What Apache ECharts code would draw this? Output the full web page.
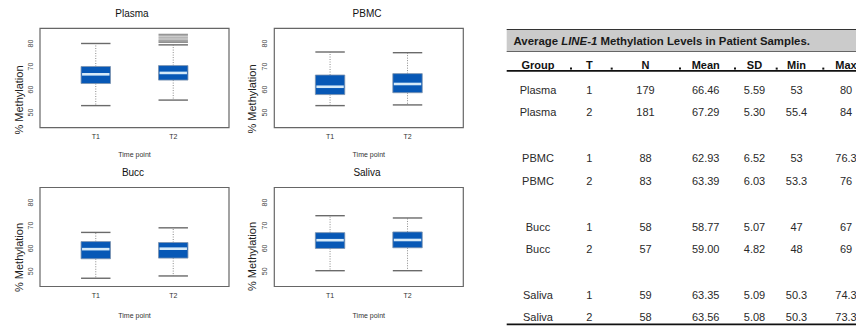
<!DOCTYPE html>
<html>
<head>
<meta charset="utf-8">
<script src="https://cdn.jsdelivr.net/npm/echarts@6/dist/echarts.min.js"></script>
<style>
html,body{margin:0;padding:0;background:#fff;}
#chart{width:856px;height:327px;}
</style>
</head>
<body>
<div id="chart"></div>
<script>
// ---------- DATA ----------
const categories = ['T1', 'T2'];
const panelTitles = ['Plasma', 'PBMC', 'Bucc', 'Saliva'];
// [min, q1, median, q3, max]
const plasmaBox = [[53, 62.6, 66.6, 70.0, 80.0], [55.4, 64.1, 67.2, 70.4, 79.4]];
const plasmaOutliers = [[2, 80.5], [2, 81.0], [2, 81.5], [2, 82.4], [2, 83.3], [2, 84.0]];
const pbmcBox = [[53, 57.8, 61.2, 66.3, 76.3], [53.3, 58.6, 62.4, 66.9, 76.0]];
const buccBox = [[47, 55.5, 59.7, 63.0, 67.0], [48, 55.8, 59.9, 62.6, 69.0]];
const salivaBox = [[50.3, 60.0, 63.6, 66.9, 74.3], [50.3, 60.3, 63.7, 67.2, 73.3]];
const yTickValues = [50, 60, 70, 80];
const xTickValues = [1, 2];
const yAxisTitle = '% Methylation';
const xAxisTitle = 'Time point';

const tableTitleA = 'Average ';
const tableTitleB = 'LINE-1';
const tableTitleC = ' Methylation Levels in Patient Samples.';
const tableHeaders = ['Group', 'T', 'N', 'Mean', 'SD', 'Min', 'Max'];
const tableGroup = ['Plasma', 'Plasma', 'PBMC', 'PBMC', 'Bucc', 'Bucc', 'Saliva', 'Saliva'];
const tableT = ['1', '2', '1', '2', '1', '2', '1', '2'];
const tableN = ['179', '181', '88', '83', '58', '57', '59', '58'];
const tableMean = ['66.46', '67.29', '62.93', '63.39', '58.77', '59.00', '63.35', '63.56'];
const tableSD = ['5.59', '5.30', '6.52', '6.03', '5.07', '4.82', '5.09', '5.08'];
const tableMin = ['53', '55.4', '53', '53.3', '47', '48', '50.3', '50.3'];
const tableMax = ['80', '84', '76.3', '76', '67', '69', '74.3', '73.3'];

// ---------- LAYOUT ----------
const FONT = 'Liberation Sans, Arial, Helvetica, sans-serif';
const panelBoxes = [plasmaBox, pbmcBox, buccBox, salivaBox];
const gridPos = [
  {left: 40, top: 28.3, width: 189, height: 99.4},
  {left: 274.3, top: 28.3, width: 189, height: 99.4},
  {left: 40, top: 187.5, width: 189, height: 99},
  {left: 274.3, top: 187.5, width: 189, height: 99}
];
const HALF_W = 0.19;

function renderBox(params, api) {
  const x = api.value(0);
  const mn = api.value(1), q1 = api.value(2), md = api.value(3), q3 = api.value(4), mx = api.value(5);
  const hw = api.size([HALF_W, 0])[0];
  const pMin = api.coord([x, mn]), pQ1 = api.coord([x, q1]), pMd = api.coord([x, md]),
        pQ3 = api.coord([x, q3]), pMax = api.coord([x, mx]);
  const cx = pMin[0];
  const dotted = {stroke: '#8a8a8a', lineWidth: 1, lineDash: [1, 1.5]};
  const cap = {stroke: '#6a6a6a', lineWidth: 1.4};
  return {
    type: 'group',
    children: [
      {type: 'line', shape: {x1: cx, y1: pQ3[1], x2: cx, y2: pMax[1]}, style: dotted},
      {type: 'line', shape: {x1: cx, y1: pQ1[1], x2: cx, y2: pMin[1]}, style: dotted},
      {type: 'line', shape: {x1: cx - hw, y1: pMax[1], x2: cx + hw, y2: pMax[1]}, style: cap},
      {type: 'line', shape: {x1: cx - hw, y1: pMin[1], x2: cx + hw, y2: pMin[1]}, style: cap},
      {type: 'rect', shape: {x: cx - hw, y: pQ3[1], width: 2 * hw, height: pQ1[1] - pQ3[1]},
        style: {fill: '#0758b6', stroke: '#7d93ad', lineWidth: 0.8}},
      {type: 'line', shape: {x1: cx - hw + 1, y1: pMd[1], x2: cx + hw - 1, y2: pMd[1]},
        style: {stroke: '#d6eaf8', lineWidth: 2.6}}
    ]
  };
}

function renderOutlier(params, api) {
  const x = api.value(0), v = api.value(1);
  const hw = api.size([HALF_W, 0])[0];
  const p = api.coord([x, v]);
  return {type: 'line', shape: {x1: p[0] - hw, y1: p[1], x2: p[0] + hw, y2: p[1]},
    style: {stroke: '#7a7a7a', lineWidth: 1}};
}

const grids = [], xAxes = [], yAxes = [], series = [];
gridPos.forEach((g, i) => {
  grids.push(Object.assign({show: true, borderColor: '#666', borderWidth: 1.2, backgroundColor: '#fff'}, g));
  xAxes.push({
    type: 'value', gridIndex: i, min: 0.28, max: 2.72,
    axisLine: {show: false}, axisTick: {show: false}, splitLine: {show: false},
    axisLabel: {customValues: xTickValues, formatter: v => categories[Math.round(v) - 1],
      fontSize: 7, color: '#333', fontFamily: FONT, margin: 5},
    name: xAxisTitle, nameLocation: 'middle', nameGap: i < 2 ? 23 : 25,
    nameTextStyle: {fontSize: 7, color: '#333', fontFamily: FONT}
  });
  yAxes.push({
    type: 'value', gridIndex: i, min: 43.4, max: 86.6,
    axisLine: {show: false}, axisTick: {show: false}, splitLine: {show: false},
    axisLabel: {customValues: yTickValues, rotate: 90, fontSize: 7, color: '#444',
      fontFamily: FONT, margin: 6}
  });
  series.push({
    type: 'custom', xAxisIndex: i, yAxisIndex: i, renderItem: renderBox,
    encode: {x: 0, y: [1, 2, 3, 4, 5]},
    data: panelBoxes[i].map((b, k) => [xTickValues[k]].concat(b)), silent: true
  });
});
series.push({
  type: 'custom', xAxisIndex: 0, yAxisIndex: 0, renderItem: renderOutlier,
  encode: {x: 0, y: 1}, data: plasmaOutliers, silent: true
});

// ---------- GRAPHIC (titles, axis titles, table) ----------
const graphic = [];
const titlePos = [[132, 13.5], [367, 13.5], [133, 172], [367, 172]];
panelTitles.forEach((t, i) => {
  graphic.push({type: 'text', x: titlePos[i][0], y: titlePos[i][1],
    style: {text: t, fontSize: 10, fill: '#111', fontFamily: FONT, align: 'center', verticalAlign: 'middle'}});
});
const ylabPos = [[18.5, 100], [252, 99], [18.5, 257.5], [252, 256.5]];
ylabPos.forEach(p => {
  graphic.push({type: 'text', x: p[0], y: p[1], rotation: Math.PI / 2,
    style: {text: yAxisTitle, fontSize: 11, fill: '#222', fontFamily: FONT, align: 'center', verticalAlign: 'middle'}});
});

// table
const TL = 506.7, TR = 856;
graphic.push({type: 'rect', shape: {x: TL, y: 29.3, width: TR - TL, height: 22.4},
  style: {fill: '#cbcbcb'}});
graphic.push({type: 'line', shape: {x1: TL, y1: 29.5, x2: TR, y2: 29.5}, style: {stroke: '#333', lineWidth: 1}});
graphic.push({type: 'line', shape: {x1: TL, y1: 51.5, x2: TR, y2: 51.5}, style: {stroke: '#666', lineWidth: 1}});
graphic.push({type: 'text', x: 513.5, y: 41,
  style: {
    text: '{b|' + tableTitleA + '}{i|' + tableTitleB + '}{b|' + tableTitleC + '}',
    verticalAlign: 'middle', align: 'left',
    rich: {
      b: {fontSize: 11.4, fontWeight: 'bold', fill: '#1a1a1a', fontFamily: FONT},
      i: {fontSize: 11.4, fontWeight: 'bold', fontStyle: 'italic', fill: '#1a1a1a', fontFamily: FONT}
    }
  }});
const colX = [538, 589.3, 645.5, 705.7, 754.5, 796.5, 846];
tableHeaders.forEach((h, c) => {
  graphic.push({type: 'text', x: colX[c], y: 64.5,
    style: {text: h, fontSize: 11, fontWeight: 'bold', fill: '#111', fontFamily: FONT,
      align: 'center', verticalAlign: 'middle'}});
});
graphic.push({type: 'line', shape: {x1: TL, y1: 70.8, x2: TR, y2: 70.8}, style: {stroke: '#111', lineWidth: 1.8}});
[571, 611.7, 680, 735, 776.7, 823.3].forEach(x => {
  graphic.push({type: 'rect', shape: {x: x - 1, y: 67.6, width: 2, height: 2}, style: {fill: '#111'}});
});
const cols = [tableGroup, tableT, tableN, tableMean, tableSD, tableMin, tableMax];
tableGroup.forEach((g, r) => {
  const gi = Math.floor(r / 2), ri = r % 2;
  const y = 90 + gi * 68.3 + ri * 22.3;
  cols.forEach((col, c) => {
    graphic.push({type: 'text', x: colX[c], y: y,
      style: {text: col[r], fontSize: 11, fill: '#2a2a2a', fontFamily: FONT,
        align: 'center', verticalAlign: 'middle'}});
  });
});
graphic.push({type: 'line', shape: {x1: TL, y1: 324.4, x2: TR, y2: 324.4}, style: {stroke: '#111', lineWidth: 1.6}});

const chart = echarts.init(document.getElementById('chart'), null, {renderer: 'svg'});
chart.setOption({
  animation: false,
  backgroundColor: '#fff',
  grid: grids, xAxis: xAxes, yAxis: yAxes, series: series,
  graphic: graphic
});
</script>
</body>
</html>
